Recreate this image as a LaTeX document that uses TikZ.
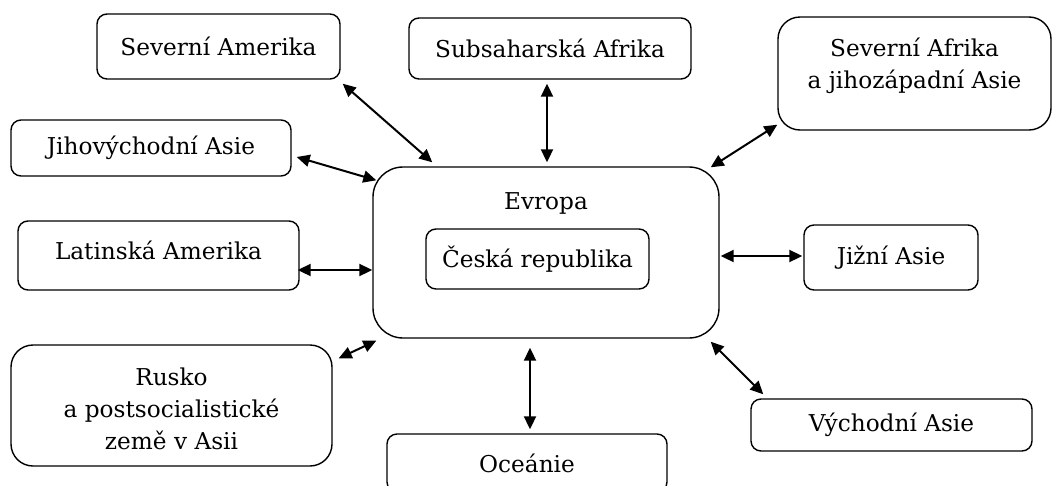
\documentclass[tikz,border=0pt]{standalone}
\usepackage{fontspec}
\setmainfont{DejaVu Serif}
\usetikzlibrary{arrows.meta,calc}
\tikzset{
  box/.style={draw=black, line width=1.4pt, rounded corners=10pt, inner sep=0pt, align=center, font=\fontsize{23.2}{32}\selectfont},
  bigbox/.style={box, rounded corners=22pt},
  txt/.style={inner sep=0pt, align=center, font=\fontsize{23.2}{32}\selectfont},
  link/.style={line width=2pt, {Triangle[length=13pt,width=12pt]}-{Triangle[length=13pt,width=12pt]}}
}
\begin{document}
\begin{tikzpicture}[x=1pt,y=-1pt]
\useasboundingbox (0,0) rectangle (1052,485);
\clip (0,0) rectangle (1052,485);
% nodes
\node[bigbox, rounded corners=30pt, minimum width=346pt, minimum height=171pt] (evropa) at (546,252.5) {};
\node[txt] (evropat) at (546,203) {Evropa};
\node[box, minimum width=223pt, minimum height=60pt] (cr) at (537.5,259) {Česká republika};
\node[box, minimum width=243pt, minimum height=65pt] (sam) at (218.5,46.5) {Severní Amerika};
\node[box, minimum width=282pt, minimum height=61pt] (sub) at (550,48.5) {Subsaharská Afrika};
\node[bigbox, minimum width=273pt, minimum height=113pt] (saf) at (914.5,73.5) {};
\node[txt] (saft) at (914.5,66) {Severní Afrika\\a jihozápadní Asie};
\node[box, minimum width=280pt, minimum height=56pt] (jva) at (151,148) {Jihovýchodní Asie};
\node[box, minimum width=281pt, minimum height=69pt] (lat) at (158.5,255.5) {};
\node[txt] (latt) at (158.5,250) {Latinská Amerika};
\node[box, minimum width=174pt, minimum height=65pt] (jiz) at (891,257.5) {Jižní Asie};
\node[bigbox, minimum width=321pt, minimum height=121pt] (rus) at (171.5,405.5) {};
\node[txt] (rust) at (171.5,409) {Rusko\\a postsocialistické\\země v Asii};
\node[box, minimum width=281pt, minimum height=52pt] (vyc) at (891.5,425) {Východní Asie};
\node[box, minimum width=280pt, minimum height=58pt] (oce) at (527,463) {Oceánie};
% connectors
\draw[link] ($(sam.south east)+(2,4)$) -- ($(evropa.north west)+(60,-4)$);
\draw[link] ($(sub.south)+(-3,4)$) -- ($(evropa.north)+(1,-4)$);
\draw[link] ($(saf.south west)+(0,-6)$) -- ($(evropa.north east)+(-9,1)$);
\draw[link] ($(jva.east)+(5,9)$) -- ($(evropa.north west)+(4,14)$);
\draw[link] ($(lat.east)+(-2,14.5)$) -- ($(evropa.west)+(0,17.5)$);
\draw[link] ($(evropa.east)+(1,3.5)$) -- ($(jiz.west)+(-1,-1.5)$);
\draw[link] ($(rus.north east)+(6,14)$) -- ($(evropa.south west)+(4,2)$);
\draw[link] ($(evropa.south)+(-16,9)$) -- ($(oce.north)+(3,-4)$);
\draw[link] ($(evropa.south east)+(-9,3)$) -- ($(vyc.north west)+(13,-4)$);
\end{tikzpicture}
\end{document}
